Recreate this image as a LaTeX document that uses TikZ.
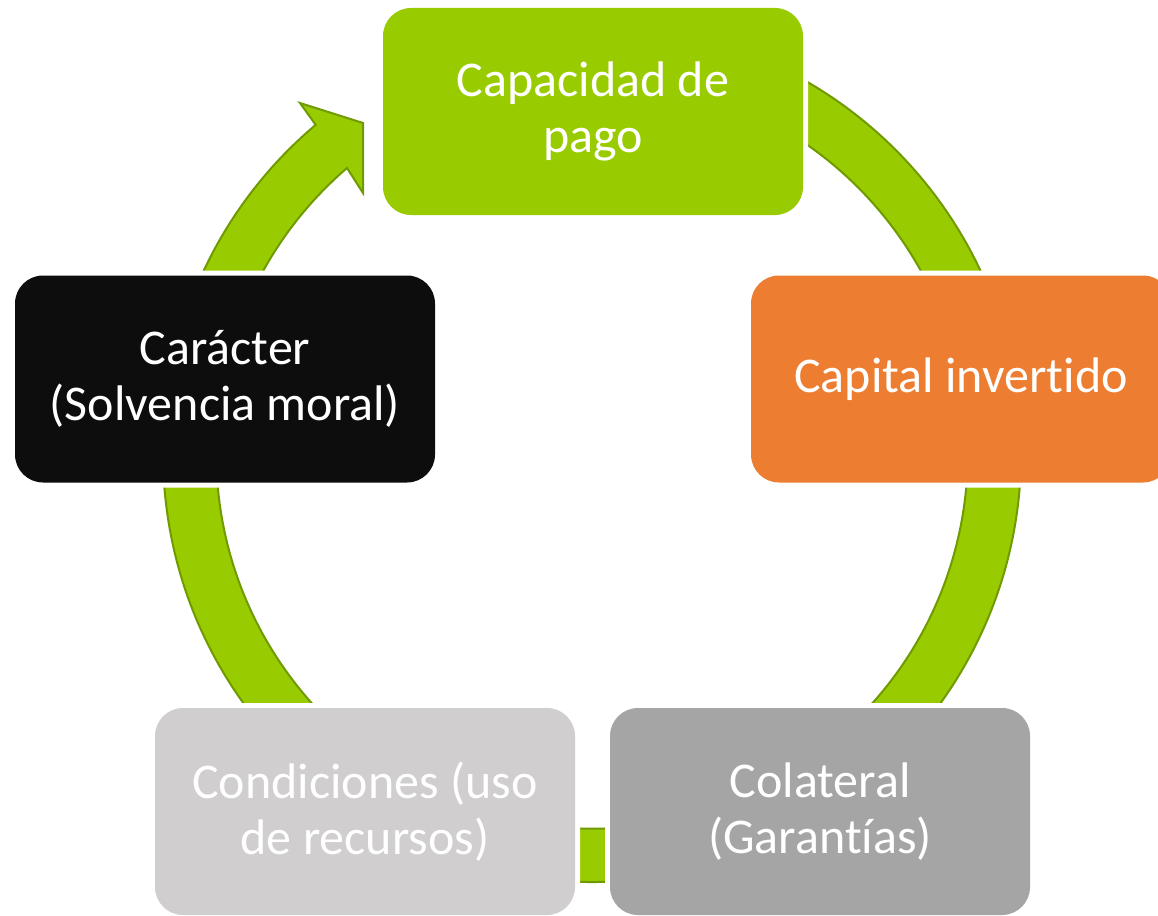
\documentclass[tikz,border=0pt]{standalone}
\usepackage{fontspec}
\setmainfont{Carlito}[Ligatures={NoCommon,NoRequired,NoContextual}]
\definecolor{cgreen}{HTML}{99CC00}
\definecolor{cgreenline}{HTML}{6F9A00}
\definecolor{corange}{HTML}{ED7D31}
\definecolor{cblack}{HTML}{0D0D0D}
\definecolor{clight}{HTML}{D0CECE}
\definecolor{cgray}{HTML}{A5A5A5}
\tikzset{
  cyclebox/.style={rectangle, rounded corners=28pt, minimum width=420pt, minimum height=207pt,
    preaction={draw=white, line width=10pt}, text=white, align=center,
    font=\fontsize{50}{56}\selectfont, inner sep=0pt},
  ring/.style={fill=cgreen, draw=cgreenline, line width=2pt, line join=miter}
}
\begin{document}
\begin{tikzpicture}[x=1pt,y=1pt]
\useasboundingbox (0,0) rectangle (1158,-915);
\clip (0,0) rectangle (1158,-915);
\fill[white] (0,0) rectangle (1158,-915);
% circular arrow ring
\coordinate (c) at (592,-453);
\path[ring] (c) ++(95:429) arc[start angle=95, end angle=-229.9, radius=429]
  -- (300,-103) -- (363,-123) -- (363,-193) -- (347,-168)
  arc[start angle=-229.3, end angle=95, radius=375.8] -- cycle;
% boxes
\node[cyclebox, fill=cgreen] (pago) at (593,-111.5) {Capacidad de\\pago};
\node[cyclebox, fill=corange] (capital) at (961,-379) {Capital invertido};
\node[cyclebox, fill=cgray] (colateral) at (820,-811.5) {Colateral\\(Garantías)};
\node[cyclebox, fill=clight] (condiciones) at (365,-811.5) {Condiciones (uso\\de recursos)};
\node[cyclebox, fill=cblack] (caracter) at (225,-379) {Carácter\\(Solvencia moral)};
\end{tikzpicture}
\end{document}
